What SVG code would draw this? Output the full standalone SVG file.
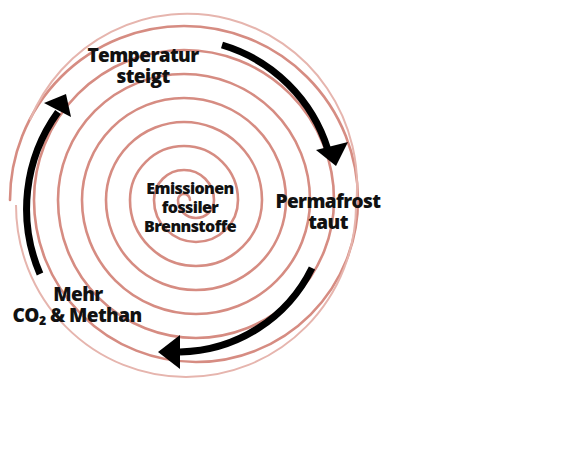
<svg xmlns="http://www.w3.org/2000/svg" width="581" height="464" viewBox="0 0 581 464">
<style>
.sp{fill:none;stroke:#d68c82;stroke-width:2.6;stroke-linecap:round}
.sp2{fill:none;stroke:#e6b5ae;stroke-width:2}
.ar{fill:none;stroke:#000;stroke-width:7}
.hd{fill:#000}
text{font-family:"Open Sans","Noto Sans",sans-serif;font-weight:800;fill:#111;text-anchor:middle;letter-spacing:-0.6px}
.big{font-size:19px}
.mid{font-size:16px}
</style>
<rect width="581" height="464" fill="#fff"/>
<g id="spiral">
<path class="sp" d="M190,200 A6,6 0 0 0 178,200 A18,18 0 0 0 214,200 A30,30 0 0 0 154,200 A42,42 0 0 0 238,200 A54,54 0 0 0 130,200 A66,66 0 0 0 262,200 A78,78 0 0 0 106,200 A90,90 0 0 0 286,200 A102,102 0 0 0 82,200 A114,114 0 0 0 310,200 A126,126 0 0 0 58,200 A138,138 0 0 0 334,200 A150,150 0 0 0 34,200 A162,162 0 0 0 358,200 A174,174 0 0 0 10,200"/>
<path class="sp2" d="M16,205 A170,172 0 0 0 356,205 A170,172 0 0 0 30,120"/>
</g>
<g id="connectors">
<path class="ar" d="M222,45 A158,158 0 0 1 328,150"/>
<polygon class="hd" points="316,150 348,142 336,166"/>
<path class="ar" d="M312,268 A150,150 0 0 1 180,352"/>
<polygon class="hd" points="180,335 180,369 158,352"/>
<path class="ar" d="M40,274 A165,165 0 0 1 58,112"/>
<polygon class="hd" points="44,103 71,117 66,94"/>
</g>
<g id="node-center">
<text class="mid"><tspan x="190" y="194">Emissionen</tspan><tspan x="190" y="213">fossiler</tspan><tspan x="190" y="232">Brennstoffe</tspan></text>
</g>
<g id="node-temperatur">
<text class="big"><tspan x="143" y="62">Temperatur</tspan><tspan x="143" y="83">steigt</tspan></text>
</g>
<g id="node-permafrost">
<text class="big"><tspan x="328" y="208">Permafrost</tspan><tspan x="328" y="229">taut</tspan></text>
</g>
<g id="node-mehr">
<text class="big"><tspan x="78" y="301">Mehr</tspan><tspan x="77" y="322">CO₂ &amp; Methan</tspan></text>
</g>
</svg>
